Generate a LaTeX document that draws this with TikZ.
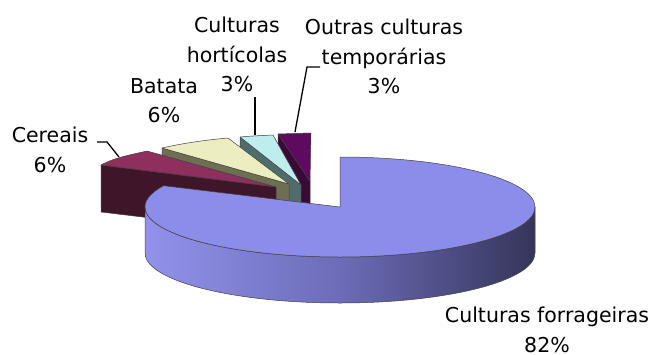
\documentclass[tikz,border=0pt]{standalone}
\usepackage{fontspec}
\setmainfont{DejaVu Sans}
\definecolor{cerTop}{HTML}{8E2F5E}
\definecolor{cerSide}{HTML}{3F1529}
\definecolor{batTop}{HTML}{EDEDC2}
\definecolor{batSide}{HTML}{6E6E52}
\definecolor{horTop}{HTML}{BDEDED}
\definecolor{horSide}{HTML}{4F6C6C}
\definecolor{outTop}{HTML}{5E0A5E}
\definecolor{outSide}{HTML}{3A0A36}
\definecolor{bigTop}{HTML}{8C8CEA}
\definecolor{bigL}{HTML}{9292EC}
\definecolor{bigM}{HTML}{6C6CB8}
\definecolor{bigR}{HTML}{35355A}
\begin{document}
\begin{tikzpicture}[x=1pt,y=-1pt,
  face/.style={draw=black!75,line width=0.5pt,line join=round},
  lbl/.style={font=\fontsize{20.5}{29.5}\selectfont,align=center,inner sep=0pt,anchor=north},
  leader/.style={draw=black,line width=1.3pt}]
\useasboundingbox (0,0) rectangle (653,354);
% Outras culturas temporarias
\path[face,fill=outSide] (278,134) -- (310,181) -- (310,226) -- (278,179) -- cycle;
\path[face,fill=outTop] (278,134) -- (311,133) -- (310,181) -- cycle;
% Culturas horticolas
\path[face,fill=horSide] (240,137) -- (301,185) -- (301,230) -- (240,182) -- cycle;
\path[face,fill=horTop] (240,137) .. controls (251,136) and (262,135.5) .. (273,135) -- (301,185) -- cycle;
% Batata
\path[face,fill=batSide] (162,148) -- (289,184) -- (289,229) -- (162,193) -- cycle;
\path[face,fill=batTop] (162,148) .. controls (184,143) and (206,140) .. (228,138) -- (289,184) -- cycle;
% Cereais
\path[face,fill=cerSide] (101,165) -- (276,187) -- (276,233) -- (101,212) -- cycle;
\path[face,fill=cerTop] (101,165) .. controls (116,157) and (132,154.6) .. (147,151) -- (276,187) -- cycle;
% Culturas forrageiras
\path[face,left color=bigL,right color=bigR,middle color=bigM]
  (535,207) -- (535,253) arc[start angle=0,end angle=180,x radius=195,y radius=50]
  -- (145,207) arc[start angle=180,end angle=0,x radius=195,y radius=50] -- cycle;
\path[face,fill=bigTop] (340,207) -- (340,157)
  arc[start angle=-90,end angle=205.2,x radius=195,y radius=50] -- cycle;
% labels
\node[lbl] (cer) at (50,127) {Cereais\\6\%};
\node[lbl] (bat) at (164,78) {Batata\\6\%};
\node[lbl] (hor) at (237,17) {Culturas\\hortícolas\\3\%};
\node[lbl] (out) at (384,19) {Outras culturas\\temporárias\\3\%};
\node[lbl] (forr) at (547,307) {Culturas forrageiras\\82\%};
% leaders
\coordinate (cerA) at (97,142);
\coordinate (cerB) at (107,142);
\coordinate (cerTip) at (119,157);
\coordinate (horA) at (255,97);
\coordinate (horTip) at (255,135);
\coordinate (outA) at (320,67);
\coordinate (outB) at (307,67);
\coordinate (outTip) at (295,132);
\draw[leader] (cerA) -- (cerB) -- (cerTip);
\draw[leader] (horA) -- (horTip);
\draw[leader] (outA) -- (outB) -- (outTip);
\end{tikzpicture}
\end{document}
